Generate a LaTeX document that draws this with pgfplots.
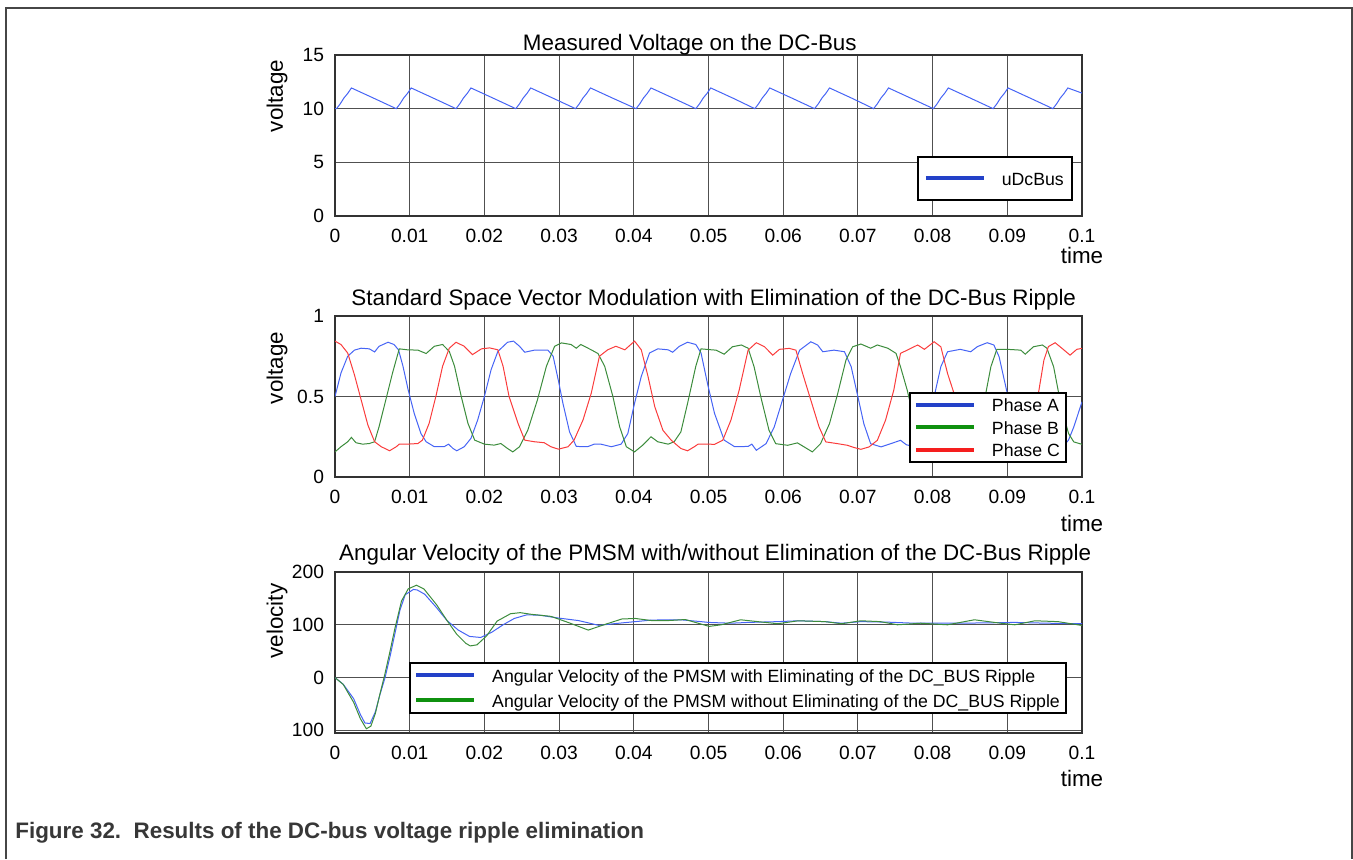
\documentclass[border=0pt]{standalone}
\usepackage{fontspec}
\setmainfont{Liberation Sans}
\usepackage{pgfplots}
\pgfplotsset{compat=1.18}
\definecolor{gridc}{RGB}{80,80,80}
\definecolor{axc}{RGB}{50,50,50}
\definecolor{framec}{RGB}{70,70,70}
\definecolor{capc}{RGB}{55,55,55}
\definecolor{lblue}{RGB}{70,100,245}
\definecolor{lgreen}{RGB}{60,140,60}
\definecolor{lred}{RGB}{250,60,60}
\definecolor{gblue}{RGB}{35,65,200}
\definecolor{ggreen}{RGB}{15,145,15}
\definecolor{gred}{RGB}{245,30,30}
\pgfplotsset{
  myax/.style={
    scale only axis, width=373.5pt, height=80.5pt,
    xmin=0, xmax=0.1,
    xtick={0,0.01,0.02,0.03,0.04,0.05,0.06,0.07,0.08,0.09,0.1},
    xticklabels={0,0.01,0.02,0.03,0.04,0.05,0.06,0.07,0.08,0.09,0.1},
    grid=major, major grid style={line width=0.5pt, draw=gridc},
    axis line style={line width=0.7pt, draw=axc},
    tick style={draw=none},
    ticklabel style={font=\fontsize{9.6}{11}\selectfont},
    xticklabel style={yshift=-3pt},
    yticklabel style={xshift=-2pt},
    every axis title/.style={font=\fontsize{11.2}{13}\selectfont, anchor=base},
    every axis x label/.style={font=\fontsize{11.2}{13}\selectfont, at={(axis description cs:1,0)}, anchor=center},
    every axis y label/.style={font=\fontsize{11.2}{13}\selectfont, rotate=90, anchor=center},
    legend style={draw=black, line width=1.2pt, fill=white,
      font=\fontsize{8.85}{10}\selectfont, cells={anchor=west},
      nodes={inner sep=1pt, text height=8pt, text depth=1pt},
      column sep=7pt, inner xsep=2pt},
    legend image code/.code={\draw[#1,line width=2pt] (0pt,0pt) -- (29pt,0pt);},
  },
}
\begin{document}
\begin{tikzpicture}
\path[use as bounding box] (0,0) rectangle (676.5pt,429.5pt);
\draw[line width=1.25pt, draw=framec] (3pt,0pt) -- (3pt,425.5pt) -- (676pt,425.5pt) -- (676pt,0pt);

% ---------------- top ----------------
\begin{axis}[myax, at={(167.5pt,321.5pt)}, anchor=south west,
  ymin=0, ymax=15, ytick={0,5,10,15}, yticklabels={0,5,10,15},
  title={Measured Voltage on the DC-Bus},
  title style={at={(axis description cs:0.475,1)}, yshift=2.2pt},
  xlabel={time}, xlabel style={yshift=-19.5pt},
  ylabel={voltage}, ylabel style={at={(axis description cs:-0.0776,0.745)}},
  legend style={at={(axis description cs:0.988,0.093)}, anchor=south east, inner ysep=5.25pt, inner xsep=3pt},
]
\addplot[color=lblue, line width=0.5pt, forget plot] coordinates {
(0,10.02) (0.0002,10.0) (0.0007,10.45) (0.0012,11.0) (0.0017,11.42) (0.0022,11.93) (0.0052,10.97)
(0.0082,10.0) (0.0087,10.45) (0.0092,11.0) (0.0097,11.42) (0.0102,11.93) (0.0132,10.97)
(0.0162,10.0) (0.0167,10.45) (0.0172,11.0) (0.0177,11.42) (0.0182,11.93) (0.0212,10.97)
(0.0242,10.0) (0.0247,10.45) (0.0252,11.0) (0.0257,11.42) (0.0262,11.93) (0.0292,10.97)
(0.0322,10.0) (0.0327,10.45) (0.0332,11.0) (0.0337,11.42) (0.0342,11.93) (0.0372,10.97)
(0.0403,10.0) (0.0408,10.45) (0.0413,11.0) (0.0418,11.42) (0.0423,11.93) (0.0453,10.97)
(0.0483,10.0) (0.0488,10.45) (0.0493,11.0) (0.0498,11.42) (0.0503,11.93) (0.0533,10.97)
(0.0562,10.0) (0.0567,10.45) (0.0572,11.0) (0.0577,11.42) (0.0582,11.93) (0.0612,10.97)
(0.0642,10.0) (0.0647,10.45) (0.0652,11.0) (0.0657,11.42) (0.0662,11.93) (0.0692,10.97)
(0.0721,10.0) (0.0726,10.45) (0.0731,11.0) (0.0736,11.42) (0.0741,11.93) (0.0771,10.97)
(0.0801,10.0) (0.0806,10.45) (0.0811,11.0) (0.0816,11.42) (0.0821,11.93) (0.0851,10.97)
(0.0881,10.0) (0.0886,10.45) (0.0891,11.0) (0.0896,11.42) (0.0901,11.93) (0.0931,10.97)
(0.0961,10.0) (0.0966,10.45) (0.0971,11.0) (0.0976,11.42) (0.0981,11.93) (0.1,11.45)
};
\addlegendimage{color=gblue}
\addlegendentry{uDcBus}
\end{axis}

% ---------------- middle ----------------
\begin{axis}[myax, at={(167.5pt,191pt)}, anchor=south west,
  ymin=0, ymax=1, ytick={0,0.5,1}, yticklabels={0,0.5,1},
  title={Standard Space Vector Modulation with Elimination of the DC-Bus Ripple},
  title style={at={(axis description cs:0.507,1)}, yshift=5.5pt},
  xlabel={time}, xlabel style={yshift=-23pt},
  ylabel={voltage}, ylabel style={at={(axis description cs:-0.0776,0.677)}},
  legend style={at={(axis description cs:0.980,0.087)}, anchor=south east, inner ysep=0.5pt, row sep=0.25pt},
]
\addplot[color=lblue, line width=0.5pt, forget plot] coordinates {
(0,0.5) (0.0008,0.646) (0.0017,0.75) (0.0026,0.788) (0.0035,0.80) (0.0046,0.796) (0.0053,0.777)
(0.0059,0.812) (0.0071,0.837) (0.0079,0.823) (0.0085,0.79) (0.0091,0.688) (0.0098,0.54)
(0.0106,0.396) (0.0115,0.27) (0.0122,0.219) (0.0133,0.188) (0.0146,0.188) (0.0152,0.204)
(0.0158,0.177) (0.0163,0.163) (0.0173,0.188) (0.0182,0.24) (0.0191,0.354) (0.0200,0.5)
(0.0209,0.667) (0.0218,0.78) (0.0231,0.837) (0.0239,0.844) (0.0247,0.812) (0.0254,0.775)
(0.0267,0.788) (0.0285,0.788) (0.0292,0.75) (0.0299,0.60) (0.0305,0.46) (0.0314,0.28)
(0.0323,0.19) (0.0338,0.188) (0.0347,0.204) (0.0356,0.204) (0.0370,0.188) (0.0383,0.204)
(0.0392,0.27) (0.0401,0.458) (0.0410,0.625) (0.0421,0.77) (0.0432,0.796) (0.0446,0.79)
(0.0452,0.775) (0.0461,0.812) (0.0472,0.837) (0.0483,0.823) (0.0490,0.77) (0.0499,0.573)
(0.0508,0.396) (0.0521,0.229) (0.0535,0.188) (0.0553,0.19) (0.0558,0.204) (0.0564,0.166)
(0.0577,0.207) (0.0588,0.311) (0.0599,0.477) (0.0610,0.643) (0.0622,0.788) (0.0637,0.84)
(0.0646,0.82) (0.0653,0.778) (0.0668,0.788) (0.0682,0.778) (0.0691,0.685) (0.0700,0.498)
(0.0708,0.33) (0.0717,0.207) (0.0731,0.187) (0.0744,0.207) (0.0757,0.228) (0.0765,0.20)
(0.0775,0.19) (0.0782,0.22) (0.0791,0.33) (0.0802,0.498) (0.0811,0.685) (0.0820,0.778)
(0.0837,0.793) (0.0851,0.778) (0.0860,0.81) (0.0873,0.834) (0.0882,0.82) (0.0889,0.747)
(0.0895,0.622) (0.0900,0.519) (0.0908,0.36) (0.0916,0.24) (0.0925,0.19) (0.0940,0.19)
(0.0948,0.205) (0.0955,0.175) (0.0965,0.165) (0.0975,0.19) (0.0982,0.23) (0.0989,0.311)
(0.1000,0.467)
};
\addplot[color=lgreen, line width=0.5pt, forget plot] coordinates {
(0,0.156) (0.0008,0.188) (0.0017,0.219) (0.0022,0.246) (0.0028,0.213) (0.0037,0.204)
(0.0046,0.208) (0.0053,0.219) (0.0059,0.3125) (0.0068,0.479) (0.0077,0.646) (0.0086,0.796)
(0.0097,0.79) (0.0111,0.788) (0.0122,0.767) (0.0133,0.812) (0.0144,0.823) (0.0153,0.78)
(0.0160,0.688) (0.0169,0.5) (0.0178,0.333) (0.0187,0.229) (0.0200,0.204) (0.0213,0.198)
(0.0222,0.208) (0.0231,0.177) (0.0238,0.156) (0.0247,0.188) (0.0258,0.29) (0.0271,0.479)
(0.0283,0.688) (0.0294,0.812) (0.0303,0.833) (0.0316,0.823) (0.0323,0.80) (0.0329,0.823)
(0.0343,0.79) (0.0352,0.767) (0.0361,0.688) (0.0372,0.5) (0.0381,0.3125) (0.0390,0.188)
(0.0401,0.156) (0.0412,0.198) (0.0423,0.25) (0.0432,0.219) (0.0446,0.204) (0.0454,0.219)
(0.0463,0.28) (0.0472,0.458) (0.0483,0.688) (0.0490,0.796) (0.0504,0.79) (0.0510,0.788)
(0.0521,0.763) (0.0532,0.809) (0.0544,0.82) (0.0553,0.80) (0.0561,0.685) (0.0570,0.498)
(0.0581,0.29) (0.0590,0.207) (0.0606,0.197) (0.0619,0.212) (0.0628,0.187) (0.0639,0.156)
(0.0650,0.207) (0.0662,0.332) (0.0673,0.519) (0.0684,0.726) (0.0693,0.809) (0.0704,0.826)
(0.0717,0.80) (0.0726,0.82) (0.0740,0.80) (0.0751,0.768) (0.0757,0.685) (0.0766,0.54)
(0.0775,0.36) (0.0785,0.23) (0.0800,0.205) (0.0812,0.198) (0.0822,0.21) (0.0832,0.178)
(0.0840,0.156) (0.0850,0.19) (0.0860,0.30) (0.0871,0.515) (0.0878,0.685) (0.0886,0.793)
(0.0900,0.793) (0.0918,0.788) (0.0924,0.763) (0.0935,0.809) (0.0947,0.82) (0.0953,0.80)
(0.0962,0.685) (0.0969,0.515) (0.0976,0.37) (0.0982,0.27) (0.0989,0.218) (0.1000,0.203)
};
\addplot[color=lred, line width=0.5pt, forget plot] coordinates {
(0,0.844) (0.0008,0.823) (0.0017,0.77) (0.0026,0.635) (0.0035,0.479) (0.0044,0.323)
(0.0053,0.219) (0.0062,0.188) (0.0073,0.163) (0.0082,0.188) (0.0086,0.204) (0.0097,0.204)
(0.0111,0.208) (0.0117,0.229) (0.0126,0.333) (0.0135,0.5) (0.0144,0.688) (0.0153,0.80)
(0.0162,0.837) (0.0173,0.812) (0.0184,0.76) (0.0196,0.796) (0.0207,0.802) (0.0218,0.79)
(0.0225,0.688) (0.0233,0.5) (0.0245,0.333) (0.0254,0.229) (0.0267,0.219) (0.0280,0.213)
(0.0289,0.188) (0.0299,0.173) (0.0312,0.188) (0.0320,0.229) (0.0332,0.354) (0.0343,0.52)
(0.0354,0.75) (0.0365,0.79) (0.0376,0.812) (0.0388,0.79) (0.0401,0.844) (0.0410,0.79)
(0.0419,0.625) (0.0428,0.4375) (0.0439,0.29) (0.0450,0.229) (0.0463,0.177) (0.0472,0.163)
(0.0481,0.188) (0.0486,0.204) (0.0499,0.204) (0.0508,0.203) (0.0519,0.228) (0.0530,0.353)
(0.0541,0.539) (0.0553,0.788) (0.0564,0.834) (0.0575,0.809) (0.0586,0.757) (0.0595,0.793)
(0.0608,0.799) (0.0617,0.788) (0.0626,0.643) (0.0637,0.477) (0.0648,0.311) (0.0657,0.218)
(0.0673,0.207) (0.0686,0.197) (0.0695,0.183) (0.0704,0.172) (0.0715,0.187) (0.0726,0.228)
(0.0737,0.353) (0.0748,0.539) (0.0757,0.768) (0.0766,0.788) (0.0780,0.82) (0.0789,0.793)
(0.0802,0.84) (0.0811,0.809) (0.0820,0.643) (0.0829,0.515) (0.0838,0.35) (0.0847,0.23)
(0.0860,0.19) (0.0872,0.175) (0.0882,0.19) (0.0890,0.205) (0.0905,0.205) (0.0915,0.22)
(0.0925,0.25) (0.0934,0.36) (0.0942,0.53) (0.0949,0.726) (0.0955,0.81) (0.0964,0.834)
(0.0973,0.80) (0.0984,0.757) (0.0993,0.793) (0.1000,0.799)
};
\addlegendimage{color=gblue}
\addlegendentry{Phase A}
\addlegendimage{color=ggreen}
\addlegendentry{Phase B}
\addlegendimage{color=gred}
\addlegendentry{Phase C}
\end{axis}

% ---------------- bottom ----------------
\begin{axis}[myax, at={(167.5pt,63pt)}, anchor=south west,
  ymin=-105, ymax=200, ytick={-100,0,100,200}, yticklabels={100,0,100,200},
  title={Angular Velocity of the PMSM with/without Elimination of the DC-Bus Ripple},
  title style={at={(axis description cs:0.509,1)}, yshift=6pt},
  xlabel={time}, xlabel style={yshift=-22.5pt},
  ylabel={velocity}, ylabel style={at={(axis description cs:-0.0776,0.696)}},
  legend style={at={(axis description cs:0.980,0.118)}, anchor=south east, inner ysep=0.75pt, row sep=1.5pt},
]
\addplot[color=lblue, line width=0.5pt, forget plot] coordinates {
(0,0) (0.0011,-12.6) (0.0025,-40) (0.0034,-70) (0.0040,-86) (0.0047,-87) (0.0054,-65)
(0.0060,-33) (0.0067,0) (0.0074,42) (0.0080,82) (0.0087,128) (0.0094,157) (0.0105,167)
(0.0110,166) (0.0120,158) (0.0135,134) (0.0150,108) (0.0165,90) (0.0180,78) (0.0195,76)
(0.0210,86) (0.0225,100) (0.0240,112) (0.0257,119) (0.0275,118) (0.0298,113) (0.0326,108)
(0.0353,99) (0.0380,103) (0.0402,106) (0.0424,109) (0.0463,109.5) (0.0490,106) (0.0500,104.5)
(0.0530,103) (0.0553,104.5) (0.0593,106) (0.0620,107.6) (0.0656,106) (0.0678,103) (0.0704,106)
(0.0740,105) (0.0776,103) (0.0820,103) (0.0866,103.5) (0.0910,104.5) (0.0955,103) (0.1000,102)
};
\addplot[color=lgreen, line width=0.5pt, forget plot] coordinates {
(0,0) (0.0011,-13) (0.0025,-47) (0.0034,-78) (0.0042,-97) (0.0048,-92) (0.0054,-68)
(0.0060,-32) (0.0067,8) (0.0074,52) (0.0080,92) (0.0089,145) (0.0098,168) (0.0109,175)
(0.0119,168) (0.0136,138) (0.0150,108) (0.0163,82) (0.0175,65) (0.0181,60) (0.0190,62)
(0.0203,79) (0.0217,107) (0.0235,121) (0.0248,123) (0.0262,120) (0.0289,116) (0.0313,104)
(0.0339,90) (0.0362,101) (0.0384,111) (0.0402,112) (0.0424,108) (0.0446,108) (0.0469,110)
(0.0491,101) (0.0501,97) (0.0517,100) (0.0543,109.5) (0.0566,106) (0.0593,102) (0.0620,107.6)
(0.0656,106) (0.0678,102) (0.0704,107.6) (0.0730,106) (0.0753,100) (0.0784,103) (0.0820,100)
(0.0856,109.5) (0.0891,103) (0.0910,100) (0.0937,107.6) (0.0968,106) (0.1000,98.7)
};
\addlegendimage{color=gblue}
\addlegendentry{Angular Velocity of the PMSM with Eliminating of the DC\_BUS Ripple}
\addlegendimage{color=ggreen}
\addlegendentry{Angular Velocity of the PMSM without Eliminating of the DC\_BUS Ripple}
\end{axis}

\node[anchor=base west, inner sep=0pt, font=\fontsize{11.2}{13}\selectfont\bfseries, text=capc]
  at (7.5pt,10.5pt) {Figure 32.\ \ Results of the DC-bus voltage ripple elimination};
\end{tikzpicture}
\end{document}
